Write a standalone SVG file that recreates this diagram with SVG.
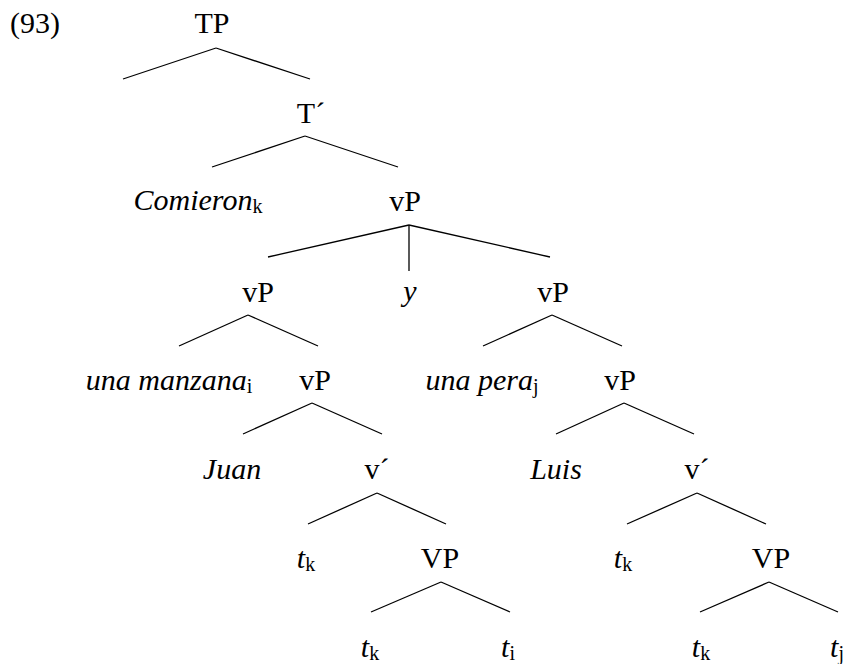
<svg xmlns="http://www.w3.org/2000/svg" width="845" height="664" viewBox="0 0 845 664">
<style>
text{font-family:"Liberation Serif","Times New Roman",serif;font-size:30px;fill:#000;text-anchor:middle}
.it{font-style:italic}
.sub{font-style:normal;font-size:20px}
.edges line{stroke:#000;stroke-width:1.3;fill:none}
</style>
<rect width="845" height="664" fill="#fff"/>
<text x="10" y="33" style="text-anchor:start">(93)</text>
<g class="edges">
<line x1="216" y1="48" x2="123" y2="79"/><line x1="216" y1="48" x2="310" y2="79"/>
<line x1="305" y1="136" x2="212" y2="167"/><line x1="305" y1="136" x2="398" y2="167"/>
<line x1="409" y1="225" x2="268" y2="257"/><line x1="409" y1="225" x2="550" y2="257"/><line x1="409" y1="225" x2="409" y2="271"/>
<line x1="248" y1="315" x2="179" y2="346"/><line x1="248" y1="315" x2="318" y2="346"/>
<line x1="552" y1="315" x2="483" y2="346"/><line x1="552" y1="315" x2="622" y2="346"/>
<line x1="312" y1="403" x2="243" y2="434"/><line x1="312" y1="403" x2="382" y2="434"/>
<line x1="624" y1="403" x2="556" y2="434"/><line x1="624" y1="403" x2="694" y2="434"/>
<line x1="377" y1="493" x2="308" y2="524"/><line x1="377" y1="493" x2="446" y2="524"/>
<line x1="697" y1="493" x2="627" y2="524"/><line x1="697" y1="493" x2="766" y2="524"/>
<line x1="441" y1="582" x2="371" y2="612"/><line x1="441" y1="582" x2="510" y2="612"/>
<line x1="769" y1="582" x2="700" y2="612"/><line x1="769" y1="582" x2="838" y2="612"/>
</g>
<g id="TP"><text x="212" y="33">TP</text></g>
<g id="Tbar"><text x="311" y="123">T´</text></g>
<g id="Comieron"><text x="198" y="210" class="it">Comieron<tspan class="sub" dy="3">k</tspan></text></g>
<g id="vP1"><text x="405" y="211">vP</text></g>
<g id="vP2"><text x="258" y="302">vP</text></g>
<g id="y"><text x="410" y="301" class="it">y</text></g>
<g id="vP3"><text x="553" y="302">vP</text></g>
<g id="manzana"><text x="169" y="390" class="it">una manzana<tspan class="sub" dy="3">i</tspan></text></g>
<g id="vP4"><text x="315" y="390">vP</text></g>
<g id="pera"><text x="482" y="390" class="it">una pera<tspan class="sub" dy="3">j</tspan></text></g>
<g id="vP5"><text x="620" y="390">vP</text></g>
<g id="Juan"><text x="232" y="479" class="it">Juan</text></g>
<g id="vbar1"><text x="377" y="479">v´</text></g>
<g id="Luis"><text x="556" y="479" class="it">Luis</text></g>
<g id="vbar2"><text x="697" y="479">v´</text></g>
<g id="tk1"><text x="306" y="568" class="it">t<tspan class="sub" dy="3">k</tspan></text></g>
<g id="VP1"><text x="440" y="568">VP</text></g>
<g id="tk2"><text x="623" y="568" class="it">t<tspan class="sub" dy="3">k</tspan></text></g>
<g id="VP2"><text x="771" y="568">VP</text></g>
<g id="tk3"><text x="370" y="657" class="it">t<tspan class="sub" dy="3">k</tspan></text></g>
<g id="ti"><text x="508" y="657" class="it">t<tspan class="sub" dy="3">i</tspan></text></g>
<g id="tk4"><text x="701" y="657" class="it">t<tspan class="sub" dy="3">k</tspan></text></g>
<g id="tj"><text x="837" y="657" class="it">t<tspan class="sub" dy="3">j</tspan></text></g>
</svg>
